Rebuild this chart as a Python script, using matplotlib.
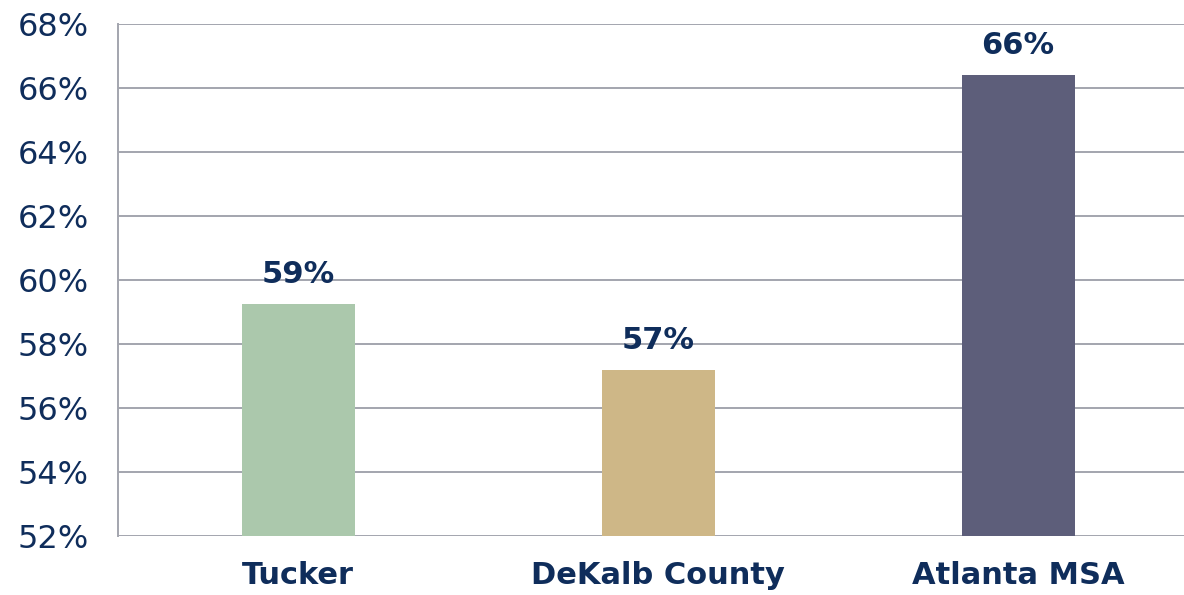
import matplotlib
matplotlib.use("Agg")
import matplotlib.pyplot as plt
from matplotlib.ticker import FuncFormatter

categories = ["Tucker", "DeKalb County", "Atlanta MSA"]
values = [59.25, 57.19, 66.41]
value_labels = ["59%", "57%", "66%"]
yticks = [52, 54, 56, 58, 60, 62, 64, 66, 68]
colors = ["#ABC8AC", "#CEB787", "#5D5E7A"]

navy = "#0F2D5B"
gridc = "#A3A5AE"

plt.rcParams['font.family'] = ['DejaVu Sans']

fig = plt.figure(figsize=(11.84, 5.95), dpi=100)
W, H = 1184, 595
left, right, top, bottom = 118, 1184, 24, 536
ax = fig.add_axes([left / W, 1 - bottom / H, (right - left) / W, (bottom - top) / H])

x = list(range(len(categories)))
ax.bar(x, values, width=113 / 360, color=colors, zorder=3)
ax.set_ylim(52, 68)
ax.set_xlim(-0.5, 2.5 - 14 / 360)
ax.set_yticks(yticks)
ax.yaxis.set_major_formatter(FuncFormatter(lambda v, p: f"{v:.0f}%"))
ax.set_xticks(x)
ax.set_xticklabels(categories, fontsize=22, fontweight="bold", color=navy)
ax.tick_params(axis="y", labelsize=23, colors=navy, length=0, pad=21)
ax.tick_params(axis="x", length=0, pad=18)
ax.grid(axis="y", color=gridc, linewidth=1.4, zorder=0)
for s in ["top", "right", "bottom"]:
    ax.spines[s].set_visible(False)
ax.spines["left"].set_color(gridc)
ax.spines["left"].set_linewidth(1.4)

for xi, v, lab in zip(x, values, value_labels):
    ax.annotate(lab, (xi, v), xytext=(0, 11), textcoords="offset points",
                ha="center", va="bottom", fontsize=22, fontweight="bold", color=navy)

fig.savefig("out.png", dpi=100)
